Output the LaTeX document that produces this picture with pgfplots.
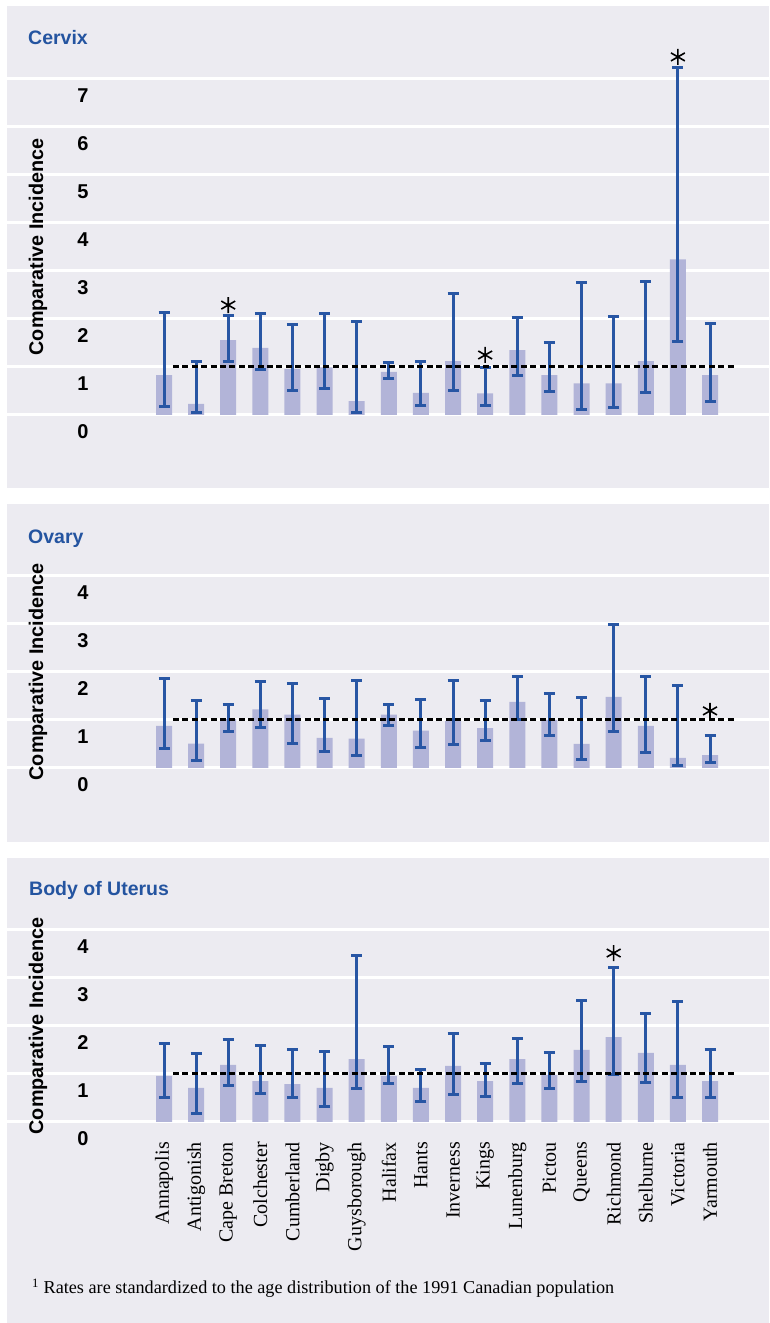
\documentclass[border=0pt]{standalone}
\usepackage{pgfplots}
\pgfplotsset{compat=1.18}
\usepackage{pgfplotstable}
\usepackage{fontspec}
\usetikzlibrary{plotmarks}
\newfontfamily\lsans{Liberation Sans}
\newfontfamily\lserif{Liberation Serif}
\definecolor{panelbg}{RGB}{236,235,241}
\definecolor{barc}{RGB}{178,180,216}
\definecolor{errc}{RGB}{40,86,164}
\definecolor{titlec}{RGB}{36,84,160}

\pgfplotstableread{
x y lo hi
0 0.83 0.17 2.14
1 0.23 0.06 1.12
2 1.56 1.11 2.07
3 1.40 0.95 2.12
4 0.96 0.51 1.88
5 0.99 0.55 2.11
6 0.29 0.06 1.94
7 0.90 0.77 1.10
8 0.46 0.19 1.12
9 1.12 0.50 2.54
10 0.45 0.19 0.99
11 1.35 0.82 2.03
12 0.83 0.48 1.50
13 0.66 0.12 2.76
14 0.66 0.16 2.06
15 1.12 0.47 2.79
16 3.24 1.54 7.23
17 0.83 0.28 1.90
}\cervix

\pgfplotstableread{
x y lo hi
0 0.88 0.40 1.86
1 0.51 0.16 1.41
2 1.02 0.76 1.32
3 1.22 0.84 1.80
4 1.11 0.50 1.75
5 0.63 0.34 1.44
6 0.61 0.26 1.82
7 1.11 0.88 1.32
8 0.78 0.42 1.43
9 0.98 0.48 1.83
10 0.83 0.58 1.40
11 1.38 1.00 1.90
12 1.00 0.67 1.56
13 0.50 0.17 1.46
14 1.48 0.77 2.98
15 0.88 0.33 1.90
16 0.21 0.06 1.71
17 0.27 0.12 0.67
}\ovary

\pgfplotstableread{
x y lo hi
0 0.96 0.52 1.63
1 0.71 0.17 1.42
2 1.19 0.77 1.71
3 0.85 0.60 1.60
4 0.79 0.50 1.52
5 0.71 0.33 1.46
6 1.31 0.69 3.46
7 0.96 0.81 1.58
8 0.71 0.42 1.10
9 1.17 0.58 1.85
10 0.85 0.54 1.21
11 1.31 0.81 1.73
12 0.98 0.69 1.44
13 1.50 0.85 2.54
14 1.77 0.98 3.21
15 1.44 0.83 2.25
16 1.19 0.50 2.50
17 0.85 0.50 1.50
}\uterus

\pgfplotsset{
  panel/.style={
    scale only axis, width=762pt,
    xmin=-4.888, xmax=18.836, ymin=0,
    enlargelimits=false, clip=false,
    axis line style={draw=none},
    tick style={draw=none}, major tick length=0pt,
    ymajorgrids, grid style={white, line width=3pt},
    /pgf/number format/assume math mode=true,
    yticklabel style={font=\lsans\bfseries\fontsize{20pt}{24pt}\selectfont, anchor=center, xshift=76pt, yshift=-17pt, inner sep=0pt},
    ylabel={Comparative Incidence},
    ylabel style={font=\lsans\bfseries\fontsize{19.8pt}{24pt}\selectfont, at={(axis description cs:0,0.5)}, anchor=center, yshift=-31pt, inner sep=0pt},
  },
  barplot/.style={
    ybar, bar width=16pt, bar shift=0pt, fill=barc, draw=none,
    error bars/.cd, y dir=both, y explicit,
    error bar style={line width=3pt, draw=errc},
    error mark options={rotate=90, line width=3pt, draw=errc, mark size=5.5pt},
  },
  refline/.style={black, line width=3pt, dash pattern=on 6pt off 3.4pt},
  starmark/.style={only marks, mark=asterisk, mark size=8pt, mark options={black, line width=1.6pt}},
}

\begin{document}
\begin{tikzpicture}[x=1pt,y=1pt]
\fill[white] (0,0) rectangle (769,1323);
\path[use as bounding box] (0,0) rectangle (769,1323);
\fill[panelbg] (7,835) rectangle (769,1317);
\fill[panelbg] (7,481) rectangle (769,819);
\fill[panelbg] (7,0) rectangle (769,465);

\node[anchor=base west, inner sep=0pt, text=titlec, font=\lsans\bfseries\fontsize{19.5pt}{24pt}\selectfont] at (28,1278) {Cervix};
\node[anchor=base west, inner sep=0pt, text=titlec, font=\lsans\bfseries\fontsize{19.5pt}{24pt}\selectfont] at (28,779.5) {Ovary};
\node[anchor=base west, inner sep=0pt, text=titlec, font=\lsans\bfseries\fontsize{19.5pt}{24pt}\selectfont] at (29,427) {Body of Uterus};

% Cervix
\begin{axis}[panel, at={(7pt,908pt)}, anchor=south west, height=336pt, ymax=7, ytick={0,1,...,7}, xtick=\empty]
\addplot[barplot] table[x=x, y=y, y error plus expr=\thisrow{hi}-\thisrow{y}, y error minus expr=\thisrow{y}-\thisrow{lo}] {\cervix};
\addplot[refline] coordinates {(0.28,1) (17.78,1)};
\addplot[starmark] coordinates {(2,2.29) (10,1.25) (16,7.46)};
\end{axis}

% Ovary
\begin{axis}[panel, at={(7pt,555pt)}, anchor=south west, height=192pt, ymax=4, ytick={0,1,...,4}, xtick=\empty]
\addplot[barplot] table[x=x, y=y, y error plus expr=\thisrow{hi}-\thisrow{y}, y error minus expr=\thisrow{y}-\thisrow{lo}] {\ovary};
\addplot[refline] coordinates {(0.28,1) (17.78,1)};
\addplot[starmark] coordinates {(17,1.19)};
\end{axis}

% Body of Uterus
\begin{axis}[panel, at={(7pt,201pt)}, anchor=south west, height=192pt, ymax=4, ytick={0,1,...,4},
  xtick={0,1,...,17},
  xticklabels={Annapolis,Antigonish,Cape Breton,Colchester,Cumberland,Digby,Guysborough,Halifax,Hants,Inverness,Kings,Lunenburg,Pictou,Queens,Richmond,Shelburne,Victoria,Yarmouth},
  xticklabel style={font=\lserif\fontsize{20pt}{24pt}\selectfont, rotate=90, anchor=east, inner sep=0pt, xshift=-20pt}]
\addplot[barplot] table[x=x, y=y, y error plus expr=\thisrow{hi}-\thisrow{y}, y error minus expr=\thisrow{y}-\thisrow{lo}] {\uterus};
\addplot[refline] coordinates {(0.28,1) (17.78,1)};
\addplot[starmark] coordinates {(14,3.52)};
\end{axis}

\node[anchor=base west, inner sep=0pt, font=\lserif\fontsize{18.2pt}{22pt}\selectfont] at (32,29.7) {\textsuperscript{1} Rates are standardized to the age distribution of the 1991 Canadian population};
\end{tikzpicture}
\end{document}
